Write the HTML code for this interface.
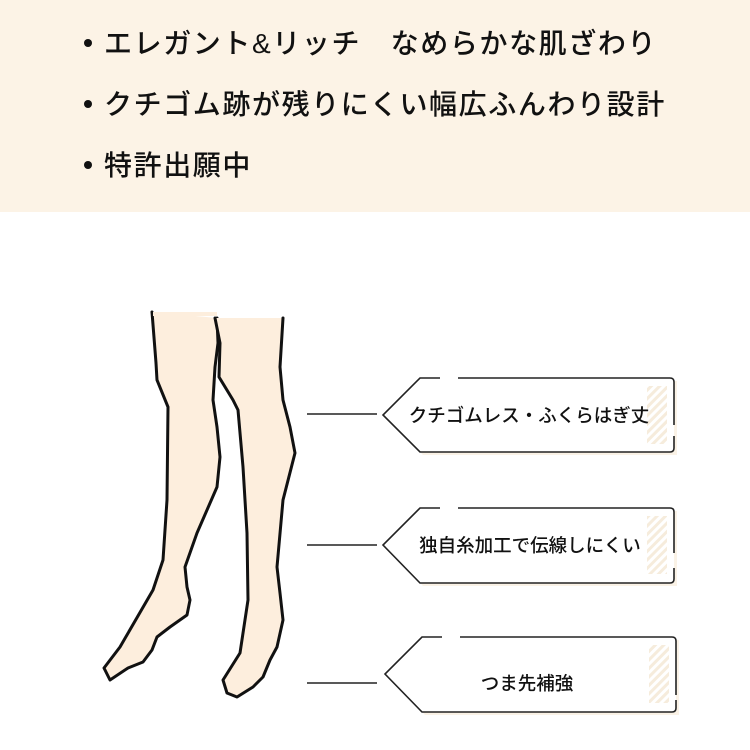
<!DOCTYPE html>
<html><head><meta charset="utf-8"><style>
html,body{margin:0;padding:0;background:#fff;}
body{width:750px;height:750px;overflow:hidden;position:relative;font-family:"Liberation Sans","Noto Sans CJK JP",sans-serif;}
.top{position:absolute;left:0;top:0;width:750px;height:212px;background:#fcf3e6;}
.b{position:absolute;left:84px;font-size:28px;font-weight:500;color:#111;letter-spacing:1.6px;white-space:nowrap;line-height:1;}
.b:before{content:"";display:inline-block;width:8px;height:8px;border-radius:50%;background:#111;margin-right:12px;vertical-align:middle;position:relative;top:-3px;}
</style></head><body>
<div class="top"></div>
<div class="b" style="top:30px">エレガント&amp;リッチ　なめらかな肌ざわり</div>
<div class="b" style="top:91px">クチゴム跡が残りにくい幅広ふんわり設計</div>
<div class="b" style="top:152px">特許出願中</div>
<svg width="750" height="750" style="position:absolute;left:0;top:0" xmlns="http://www.w3.org/2000/svg">
<defs>
<pattern id="h" width="6" height="6" patternUnits="userSpaceOnUse" patternTransform="rotate(45)">
<rect width="6" height="6" fill="#fff"/><rect width="3" height="6" fill="#f6ecdc"/></pattern>
</defs>
<g fill="#fdeedd" stroke="#111" stroke-width="3" stroke-linejoin="round" stroke-linecap="round">
<path d="M152,312 L156,363 L157,380 L168,407 L167,500 L163,560 L153,590 L120,647 L104,668 L110,680 L128,668 L143,662 L152,650 L157,637 L170,627 L187,615 L190,600 L187,587 L185,567 L197,533 L217,487 L220,457 L217,427 L213,400 L215,367 L218,343 L217,318" stroke="none"/>
<path d="M152,312 L156,363 L157,380 L168,407 L167,500 L163,560 L153,590 L120,647 L104,668 L110,680 L128,668 L143,662 L152,650 L157,637 L170,627 L187,615 L190,600 L187,587 L185,567 L197,533 L217,487 L220,457 L217,427 L213,400 L215,367 L218,343 L217,318" fill="none"/>
<path d="M215,318 L220,343 L219,377 L233,400 L238,410 L243,467 L247,533 L248,600 L240,653 L223,680 L227,693 L237,697 L253,687 L263,677 L270,660 L277,647 L283,620 L280,593 L277,567 L283,500 L295,453 L290,427 L283,400 L280,367 L283,318"/>
<rect x="153" y="312" width="64" height="4" stroke="none"/>
</g>
<g stroke="#222" stroke-width="1.5" fill="none">
<line x1="307" y1="414" x2="377" y2="414"/>
<line x1="307" y1="545" x2="377" y2="545"/>
<line x1="307" y1="683" x2="377" y2="683"/>
</g>
<g>
<path d="M423,381 L677,381 L677,455 L423,455 L386,418 Z" fill="#f7ead6" opacity="0.6"/>
<path d="M420,378 L670,378 Q674,378 674,382 L674,448 Q674,452 670,452 L420,452 L383,415 Z" fill="#fff"/>
<rect x="647" y="386" width="20" height="58" fill="url(#h)"/>
<path d="M440,378 L420,378 L383,415 L420,452 L670,452 Q674,452 674,448 L674,436 M674,425 L674,382 Q674,378 670,378 L458,378" fill="none" stroke="#222" stroke-width="1.6"/>
<text x="529" y="422" font-size="18.5" font-weight="500" text-anchor="middle" fill="#111" font-family="Liberation Sans, Noto Sans CJK JP, sans-serif">クチゴムレス・ふくらはぎ丈</text>
</g>
<g>
<path d="M423,511 L677,511 L677,586 L423,586 L386,548 Z" fill="#f7ead6" opacity="0.6"/>
<path d="M420,508 L670,508 Q674,508 674,512 L674,579 Q674,583 670,583 L420,583 L383,545 Z" fill="#fff"/>
<rect x="647" y="516" width="20" height="58" fill="url(#h)"/>
<path d="M440,508 L420,508 L383,545 L420,583 L670,583 Q674,583 674,579 L674,568 M674,553 L674,512 Q674,508 670,508 L458,508" fill="none" stroke="#222" stroke-width="1.6"/>
<text x="530" y="552" font-size="18.5" font-weight="500" text-anchor="middle" fill="#111" font-family="Liberation Sans, Noto Sans CJK JP, sans-serif">独自糸加工で伝線しにくい</text>
</g>
<g>
<path d="M425,640 L679,640 L679,715 L425,715 L388,677 Z" fill="#f7ead6" opacity="0.6"/>
<path d="M422,637 L672,637 Q676,637 676,641 L676,708 Q676,712 672,712 L422,712 L385,674 Z" fill="#fff"/>
<rect x="649" y="645" width="20" height="58" fill="url(#h)"/>
<path d="M442,637 L422,637 L385,674 L422,712 L672,712 Q676,712 676,708 L676,700 M676,695 L676,641 Q676,637 672,637 L460,637" fill="none" stroke="#222" stroke-width="1.6"/>
<text x="527" y="690" font-size="18.5" font-weight="500" text-anchor="middle" fill="#111" font-family="Liberation Sans, Noto Sans CJK JP, sans-serif">つま先補強</text>
</g>
</svg>
</body></html>
